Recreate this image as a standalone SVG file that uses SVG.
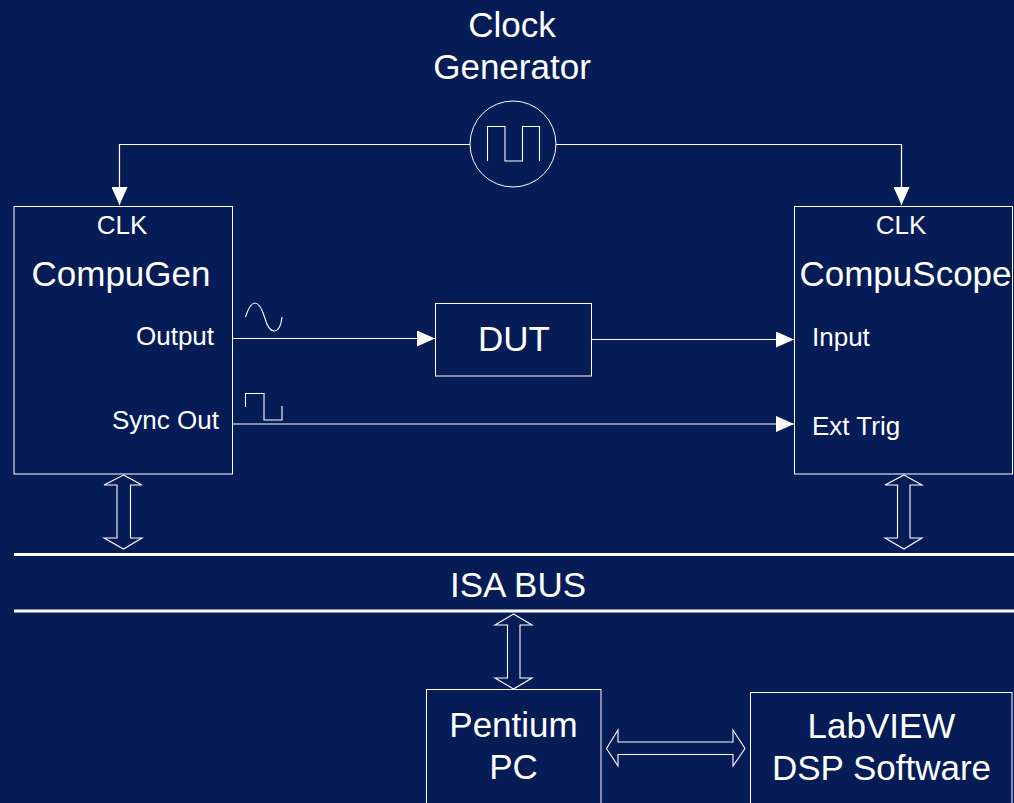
<svg xmlns="http://www.w3.org/2000/svg" width="1014" height="803" viewBox="0 0 1014 803">
<style>
text{font-family:"Liberation Sans",Arial,sans-serif;fill:#fff;text-anchor:middle}
.l{font-size:35px}.s{font-size:26px}.st{text-anchor:start}
.b{fill:#051c57;stroke:#fff;stroke-width:1}
.w{fill:none;stroke:#fff;stroke-width:1.1}
.c{fill:none;stroke:#fff;stroke-width:1.2}
.bus{stroke:#fff;stroke-width:3}
</style>
<defs>
<marker id="ah" markerUnits="userSpaceOnUse" markerWidth="18" markerHeight="16" refX="18" refY="8" orient="auto"><path d="M0 0L18 8L0 16Z" fill="#fff"/></marker>
</defs>
<rect width="1014" height="803" fill="#051c57"/>
<g id="connectors">
<path class="c" d="M470 144.500H119.500V205" marker-end="url(#ah)"/>
<path class="c" d="M556 144.500H901.500V205" marker-end="url(#ah)"/>
<path class="c" d="M233 338.500H435" marker-end="url(#ah)"/>
<path class="c" d="M592 339.500H794" marker-end="url(#ah)"/>
<path class="c" d="M233 424H794" marker-end="url(#ah)"/>
<path class="w" d="M123.500 475L142 485H130.500V538H142L123.500 549L104 538H117V485H104Z"/>
<path class="w" d="M904 475L922 485H910V538H922L904 549L885 538H897.500V485H885Z"/>
<path class="w" d="M513.500 614L532 625H520V678H532L513.500 689L495 678H507.500V625H495Z"/>
<path class="w" d="M606.500 748.500L618 730V742H733V730L745 748.500L733 766V754.500H618V766Z"/>
</g>
<g id="clock-generator">
<circle class="b" cx="513" cy="144" r="43"/>
<path class="w" d="M487.500 161V126.500H505V161H522.500V126.500H539.500V161"/>
<text class="l" x="512" y="37">Clock</text>
<text class="l" x="512" y="79">Generator</text>
</g>
<g id="compugen">
<rect class="b" x="14" y="206.500" width="218.500" height="267.500"/>
<text class="s" x="122" y="234">CLK</text>
<text class="l" x="121" y="286">CompuGen</text>
<text class="s" x="175" y="345">Output</text>
<text class="s" x="165.500" y="429">Sync Out</text>
</g>
<g id="sine-wave"><path class="w" d="M245.500 317C249 306 252 303 255 303C259 303 262 309 264.500 317C267 326 270 331 274 331C278 331 281 326 282 317"/></g>
<g id="sync-wave"><path class="w" d="M245.500 407V393.500H264V420H282V406"/></g>
<g id="dut">
<rect class="b" x="435.500" y="303.500" width="156" height="72.500"/>
<text class="l" x="514" y="351">DUT</text>
</g>
<g id="compuscope">
<rect class="b" x="794.500" y="206.500" width="218" height="267.500"/>
<text class="s" x="901" y="234">CLK</text>
<text class="l" x="905.500" y="286">CompuScope</text>
<text class="s st" x="812" y="346">Input</text>
<text class="s st" x="812" y="435">Ext Trig</text>
</g>
<g id="isa-bus">
<line class="bus" x1="14" y1="554.500" x2="1014" y2="554.500"/>
<line class="bus" x1="14" y1="611" x2="1014" y2="611"/>
<text class="l" x="518" y="597">ISA BUS</text>
</g>
<g id="pentium-pc">
<rect class="b" x="426.500" y="689.500" width="174.500" height="120"/>
<text class="l" x="513.500" y="737">Pentium</text>
<text class="l" x="513.500" y="779">PC</text>
</g>
<g id="labview">
<rect class="b" x="750.500" y="692.500" width="261.500" height="120"/>
<text class="l" x="881.500" y="738">LabVIEW</text>
<text class="l" x="881.500" y="780">DSP Software</text>
</g>
</svg>
